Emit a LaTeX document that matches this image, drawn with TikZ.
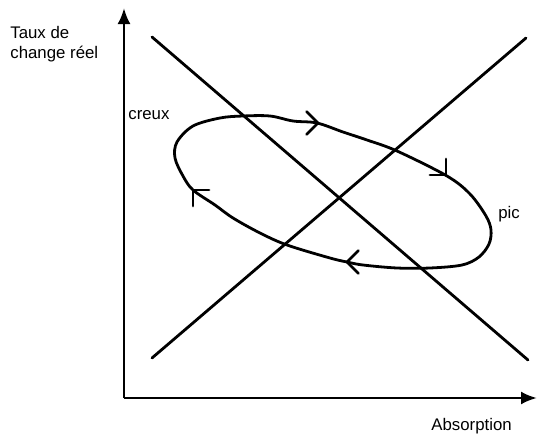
\documentclass[tikz,border=0pt]{standalone}
\usepackage{fontspec}
\setmainfont{Liberation Sans}
\usetikzlibrary{arrows.meta,calc}
\tikzset{
  axis/.style={-{Latex[length=8pt,width=6.5pt]},line width=1.3pt,draw=black},
  curve/.style={line width=1.4pt,draw=black,line cap=round,line join=round},
  label/.style={inner sep=0pt,font=\fontsize{8.4}{10}\selectfont}
}
% chevron on the cycle: tip, direction of travel
\newcommand\chevron[2]{%
  \draw[curve] ($(#1)+(#2+135:8pt)$) -- (#1) -- ($(#1)+(#2-135:8pt)$);}

\begin{document}
\begin{tikzpicture}[x=0.5pt,y=-0.5pt]
  \useasboundingbox (0,0) rectangle (537,434);

  % axes
  \coordinate (origin) at (124,398);
  \coordinate (ytop) at (124,8);
  \coordinate (xend) at (537,398);
  \draw[axis] (origin) -- (ytop);
  \draw[axis] (origin) -- (xend);

  % the two lines
  \coordinate (downA) at (152,37);
  \coordinate (downB) at (528,360);
  \coordinate (upA) at (152,358);
  \coordinate (upB) at (526,38);
  \draw[curve] (downA) -- (downB);
  \draw[curve] (upA) -- (upB);

  % the cycle
  \draw[curve] plot[smooth cycle,tension=0.55] coordinates {
    (220,118) (243,116) (270,116) (293,121) (317,123) (343,132)
    (367,140) (397,151) (447,176) (470,194) (486,216) (491,230)
    (489,244) (479,257) (462,265) (430,268) (397,268) (363,265)
    (347,262) (330,258) (287,245) (260,233) (233,218) (215,205)
    (193,190) (183,176) (175,158) (177,142) (193,126)};

  \coordinate (chevT) at (318,123);
  \coordinate (chevR) at (446,175);
  \coordinate (chevB) at (347,262);
  \coordinate (chevL) at (193,190);
  \chevron{chevT}{0}
  \chevron{chevR}{-45}
  \chevron{chevB}{180}
  \chevron{chevL}{135}

  % labels
  \node[label,anchor=north west,align=left] (ylab) at (10,25.5) {Taux de\\change réel};
  \node[label,anchor=base west] (xlab) at (431,430.5) {Absorption};
  \node[label,anchor=base west] (creux) at (128,119) {creux};
  \node[label,anchor=base west] (pic) at (498,218) {pic};
\end{tikzpicture}
\end{document}
